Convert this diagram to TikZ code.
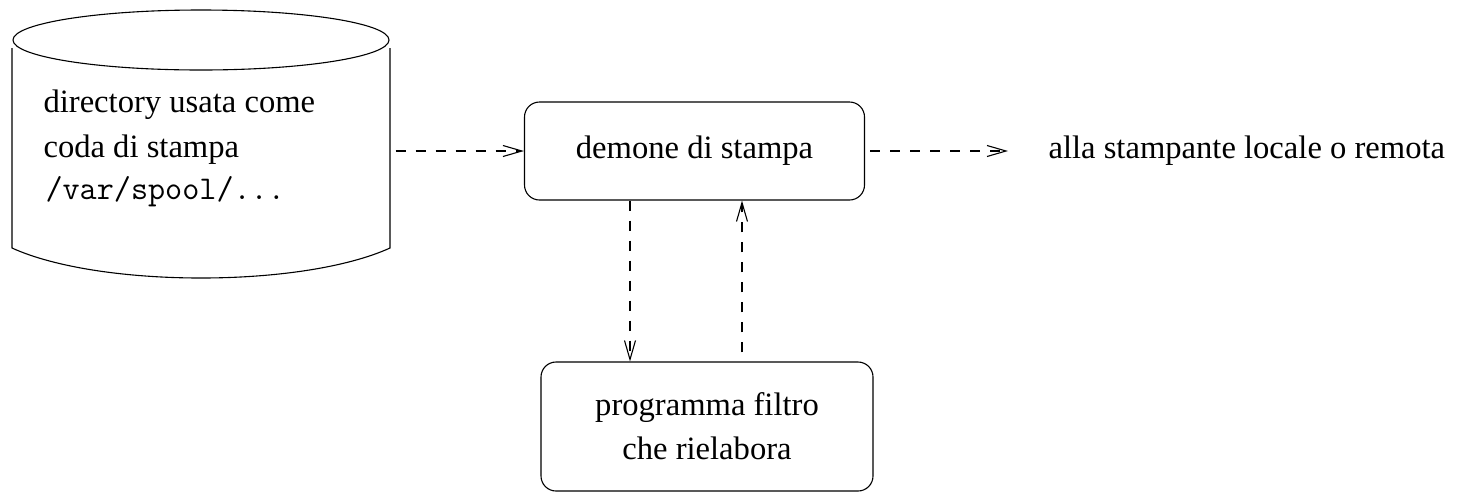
\documentclass[tikz,border=0pt]{standalone}
\usepackage{fontspec}
\setmainfont{Liberation Serif}
\usetikzlibrary{arrows.meta}
\begin{document}
\begin{tikzpicture}[x=0.5pt,y=-0.5pt,
  line width=0.55pt,
  every node/.style={font=\fontsize{16.3}{20}\selectfont},
  procbox/.style={draw,rounded corners=7.5pt,inner sep=0pt,align=center},
  flow/.style={dashed,dash pattern=on 5pt off 5pt,
    -{Straight Barb[length=9.5pt,width=5.5pt]}},
  mono/.style={font=\fontsize{16.6}{20}\ttfamily}]
\useasboundingbox (0,0) rectangle (1457,494);

% spool directory drawn as a disk cylinder
\draw (201,40) ellipse [x radius=188, y radius=30];
\draw (12,48) -- (12,248) .. controls (100,288) and (302,288) .. (390,248) -- (390,48);
\node[inner sep=0pt,minimum width=378*0.5pt,minimum height=200*0.5pt] (queue) at (201,151) {};
\node[anchor=west,inner sep=0pt] (l1) at (43,105) {directory usata come};
\node[anchor=west,inner sep=0pt] (l2) at (43,150) {coda di stampa};
\node[anchor=west,inner sep=0pt,mono] (l3) at (45,192) {/var/spool/...};

% processes
\node[procbox,minimum width=170pt,minimum height=49pt] (daemon) at (694.5,151) {demone di stampa};
\node[procbox,minimum width=166pt,minimum height=64.5pt] (filter) at (707,426.5)
  {programma filtro\\[2pt]che rielabora};
\node[anchor=west,inner sep=0pt] (printer) at (1048,151) {alla stampante locale o remota};

% data flow
\draw[flow,shorten <=2.5pt] (queue.east) -- (daemon.west);
\draw[flow,shorten <=2.5pt,shorten >=20pt] (daemon.east) -- (printer.west);
\draw[flow] (daemon.south -| 630,0) -- (filter.north -| 630,0);
\draw[flow,shorten <=4.5pt] (filter.north -| 742,0) -- (daemon.south -| 742,0);
\end{tikzpicture}
\end{document}
